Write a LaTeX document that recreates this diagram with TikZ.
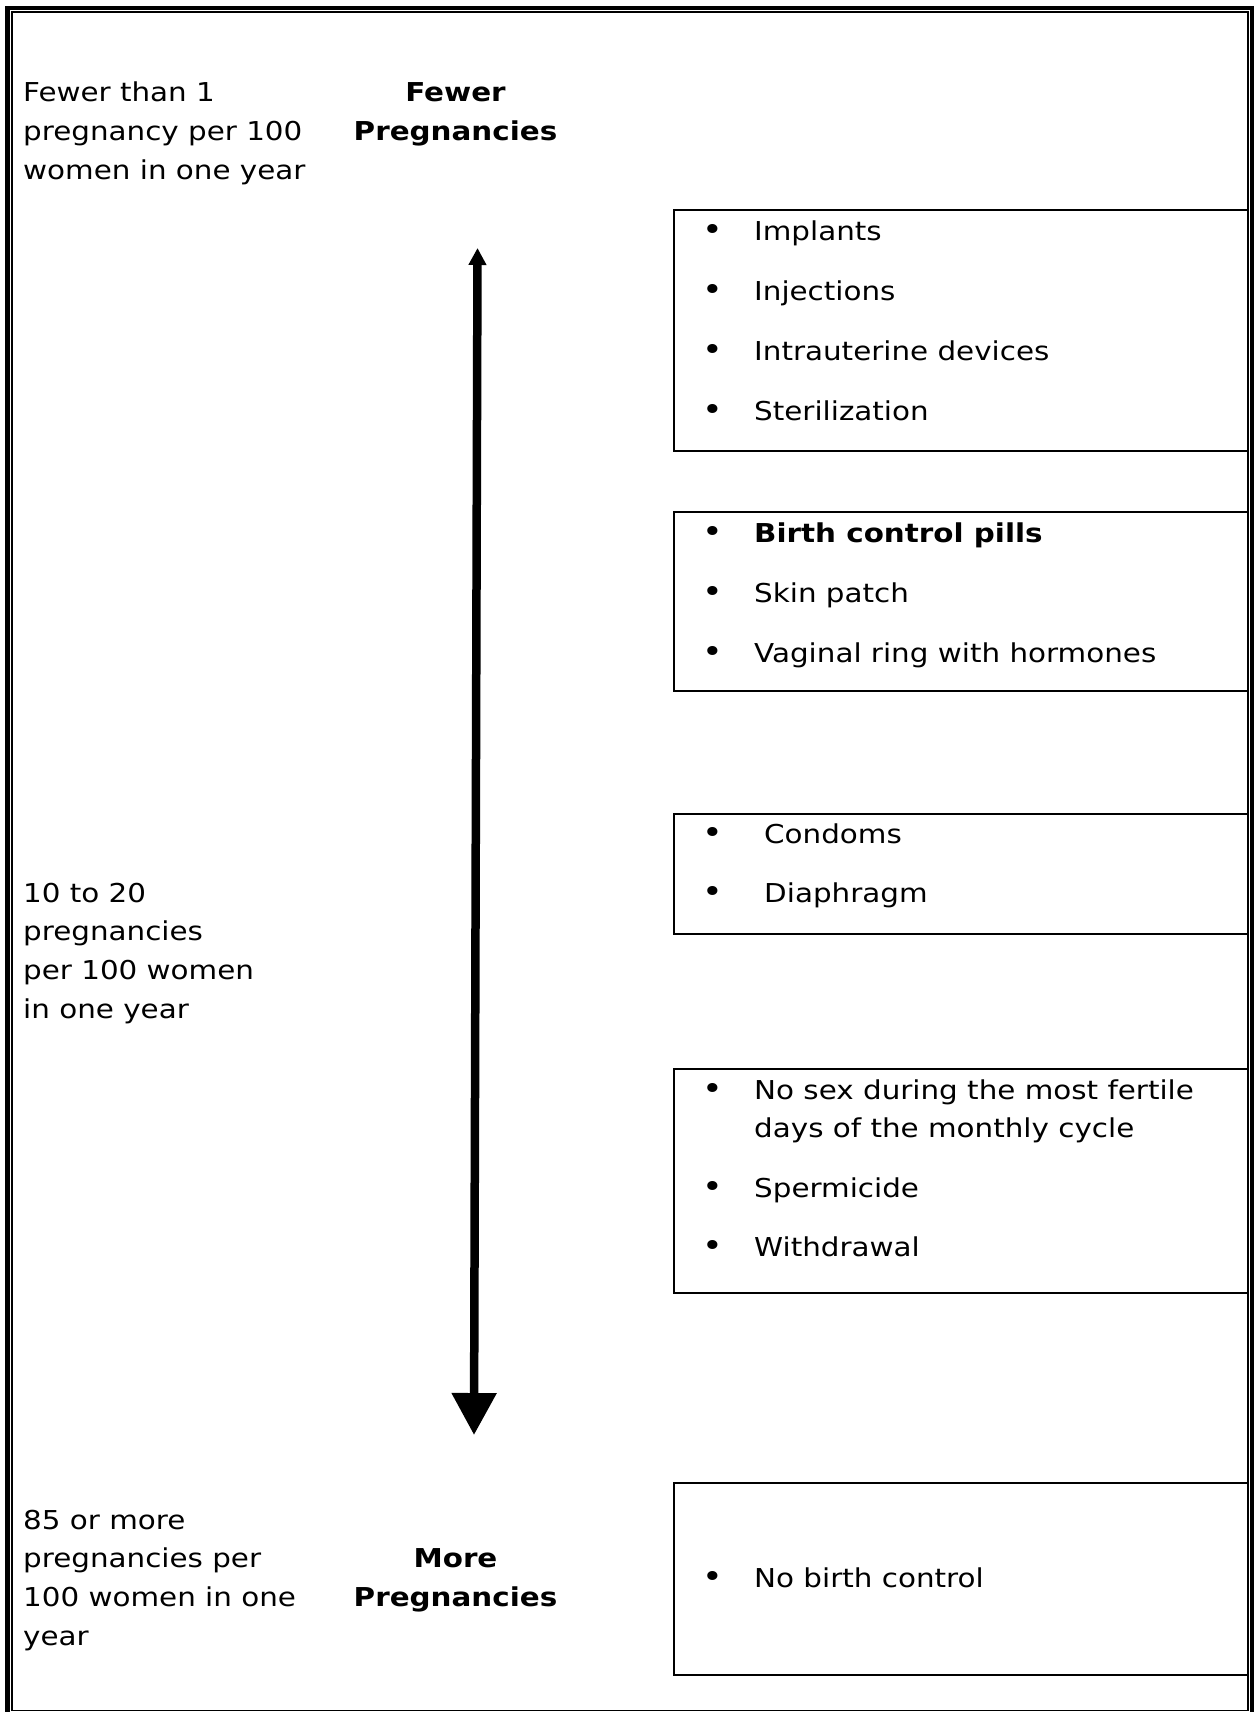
\documentclass[tikz,border=0pt]{standalone}
\usepackage{fontspec}
\setmainfont{DejaVu Sans}[FakeStretch=1.13]
\usetikzlibrary{arrows.meta}
\begin{document}
\begin{tikzpicture}[x=1pt,y=-1pt,
  txt/.style={inner sep=0pt, anchor=base west, align=left, font=\fontsize{26}{38.8}\selectfont},
  hdr/.style={inner sep=0pt, anchor=base, align=center, font=\fontsize{26}{38.8}\selectfont\bfseries},
  blt/.style={inner sep=0pt, anchor=base, font=\fontsize{31}{31}\selectfont},
  band/.style={draw, line width=2pt, outer sep=0pt, inner sep=0pt, anchor=north west, minimum width=573.7pt}]
\useasboundingbox (0,0) rectangle (1256,1712);
\fill[white] (0,0) rectangle (1256,1712);
% page border (thick outside, thin inside)
\draw[line width=4.5pt] (7.5,8) rectangle (1252,1716);
\draw[line width=1.7pt] (11.8,11.8) rectangle (1247.7,1710.5);

% left labels (multi-line nodes: base = last line)
\node[txt] (l1) at (23,179.3) {Fewer than 1\\pregnancy per 100\\women in one year};
\node[hdr] (h1) at (455.5,140.5) {Fewer\\Pregnancies};
\node[txt] (l2) at (23,1018.4) {10 to 20\\pregnancies\\per 100 women\\in one year};
\node[txt] (l3) at (23,1645.4) {85 or more\\pregnancies per\\100 women in one\\year};
\node[hdr] (h2) at (455.5,1606.3) {More\\Pregnancies};

% arrow
\coordinate (up) at (477.5,248);
\coordinate (dn) at (474,1435);
\draw[line width=8.5pt, {Triangle[width=17pt,length=17pt]}-{Triangle[width=43pt,length=42pt]}] (up) -- (dn);

% boxes
\node[band, minimum height=240.7pt] (b1) at (674,210) {};
\node[band, minimum height=179.3pt] (b2) at (674,511.7) {};
\node[band, minimum height=120.3pt] (b3) at (674,813.7) {};
\node[band, minimum height=224pt] (b4) at (674,1069.3) {};
\node[band, minimum height=192pt] (b5) at (674,1483) {};

% box 1
\node[blt] (d11) at (713,240.5) {•};
\node[txt] (t11) at (754,240.5) {Implants};
\node[blt] (d12) at (713,300.5) {•};
\node[txt] (t12) at (754,300.5) {Injections};
\node[blt] (d13) at (713,360.6) {•};
\node[txt] (t13) at (754,360.6) {Intrauterine devices};
\node[blt] (d14) at (713,420.7) {•};
\node[txt] (t14) at (754,420.7) {Sterilization};

% box 2
\node[blt] (d21) at (713,542) {•};
\node[txt, font=\fontsize{26}{38.8}\selectfont\bfseries] (t21) at (754,542) {Birth control pills};
\node[blt] (d22) at (713,602) {•};
\node[txt] (t22) at (754,602) {Skin patch};
\node[blt] (d23) at (713,662) {•};
\node[txt] (t23) at (754,662) {Vaginal ring with hormones};

% box 3
\node[blt] (d31) at (713,843.4) {•};
\node[txt] (t31) at (764,843.4) {Condoms};
\node[blt] (d32) at (713,902.3) {•};
\node[txt] (t32) at (764,902.3) {Diaphragm};

% box 4
\node[blt] (d41) at (713,1099) {•};
\node[txt] (t41) at (754,1137.8) {No sex during the most fertile\\days of the monthly cycle};
\node[blt] (d42) at (713,1197) {•};
\node[txt] (t42) at (754,1197) {Spermicide};
\node[blt] (d43) at (713,1256) {•};
\node[txt] (t43) at (754,1256) {Withdrawal};

% box 5
\node[blt] (d51) at (713,1587) {•};
\node[txt] (t51) at (754,1587) {No birth control};
\end{tikzpicture}
\end{document}
